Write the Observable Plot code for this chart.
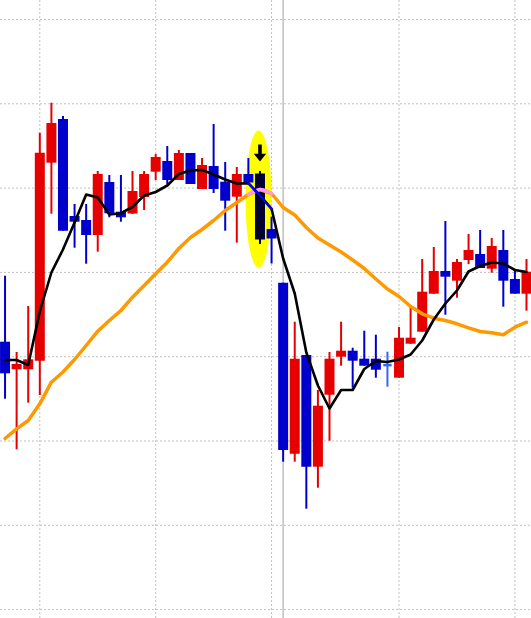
<!DOCTYPE html>
<html>
<head>
<meta charset="utf-8">
<script src="https://cdn.jsdelivr.net/npm/d3@7"></script>
<script src="https://cdn.jsdelivr.net/npm/@observablehq/plot@0.6"></script>
<style>
html, body { margin: 0; padding: 0; background: #ffffff; overflow: hidden; }
#chart svg { display: block; }
</style>
</head>
<body>
<div id="chart"></div>
<script>
// Candle data (bar index 0..45), price units
const opens  = [278.3, 250.7, 250.7, 259.3, 457.3, 501, 404, 400, 385, 438, 408.3, 406.5, 423, 448.3, 459, 440, 467, 431, 454, 438.3, 423.3, 446, 446.5, 391, 337.3, 166.3, 265, 153.3, 225.3, 263.3, 269.3, 261.3, 261.3, 255.4, 242.3, 276.3, 288.3, 326.3, 349, 339.3, 360, 366, 351.3, 370, 341, 326.3];
const highs  = [344.3, 268, 314, 487.3, 517.3, 504, 416, 416, 449, 445, 445, 449, 449, 466, 474, 470, 467, 462, 496, 458, 453, 462, 449, 403.3, 337.3, 298.3, 265, 230, 268, 298.3, 272.3, 289.3, 285.3, 268.3, 293, 313.3, 361, 373, 399, 361, 386, 390, 382, 390, 351, 361];
const lows   = [221.3, 170.7, 217.3, 225, 406.3, 389.3, 372.3, 356.3, 368.3, 402.7, 398.3, 406, 410, 440, 436, 440, 436, 431, 427, 389.3, 377.3, 437, 376, 356.5, 158.3, 158.3, 111.3, 132.3, 179.3, 254.3, 232.3, 254.3, 242.3, 233.3, 242.3, 276.3, 288.3, 326.3, 305.3, 322.3, 356, 352, 347.3, 313.3, 326.3, 309.3];
const closes = [246.7, 256, 260.7, 467.3, 497, 389.3, 398.3, 385, 446, 406.7, 402.7, 429, 446, 463, 440, 467, 436, 455, 431, 419.3, 446, 437.5, 380.5, 381.5, 170, 261.3, 153.3, 214.3, 261.3, 269.3, 259.3, 254.3, 250.3, 255.4, 282.3, 282.3, 328.3, 349, 343.3, 358, 370, 352, 374, 339.3, 326.3, 348.3];

// Moving averages
const maFast = [260.5, 260.5, 255.5, 309, 348, 371, 398, 426, 423, 406, 407.3, 413.5, 425, 428.5, 435, 446.5, 450, 450.5, 446, 441, 437, 437.3, 425, 411.7, 362, 327, 268, 235, 212, 230.5, 230.5, 251.5, 259.5, 258.5, 261, 266, 280, 301, 317, 330, 349, 354.5, 358, 357, 350.5, 348.5];
const maSlow = [182, 191.7, 200, 216.7, 238.3, 248.5, 261, 275, 289.3, 300, 310, 323.3, 335, 346.7, 358.3, 372, 383, 391, 400, 410, 418, 426, 431, 427, 413, 405.5, 393, 382.5, 375.5, 368.5, 360.5, 352, 341.5, 331.5, 324, 314, 306.7, 302.3, 300, 296.7, 292.7, 289, 287.7, 285.7, 293.3, 298.3];

// Grid / annotation values
const priceGrid = [601, 516.7, 432.4, 348.1, 263.8, 179.5, 95.2, 10.9];
const barGrid = [3, 13, 23, 34, 44];
const sessionBreak = [24];
const signalBar = 22;
const crossStart = 21;
const crossEnd = 23;

const bars = opens.map((o, i) => ({i, open: o, high: highs[i], low: lows[i], close: closes[i]}));
const fastRows = maFast.map((v, i) => ({i, v}));
const slowRows = maSlow.map((v, i) => ({i, v}));
const inCross = d => d.i >= crossStart && d.i <= crossEnd;

const colorOf = d => d.i === signalBar ? "#000033"
  : d.close > d.open ? "#e60000"
  : d.close < d.open ? "#0000cc" : "#3366ff";

// highlight ellipse around signal bar
const ellipse = d3.range(0, 360, 5).map(a => ({
  x: signalBar - 0.12 + 1.12 * Math.cos(a * Math.PI / 180),
  y: 421.4 + 68.6 * Math.sin(a * Math.PI / 180)
}));

const arrowSymbol = {
  draw(ctx) {
    ctx.moveTo(-1.8, -17); ctx.lineTo(1.8, -17); ctx.lineTo(1.8, -7.7);
    ctx.lineTo(6.2, -7.7); ctx.lineTo(0, 0); ctx.lineTo(-6.2, -7.7);
    ctx.lineTo(-1.8, -7.7); ctx.closePath();
  }
};

const chart = Plot.plot({
  width: 531,
  height: 618,
  margin: 0,
  x: {type: "linear", domain: [-0.392, 45.432], axis: null},
  y: {domain: [2, 620], axis: null},
  color: {type: "identity"},
  marks: [
    Plot.ruleY(priceGrid, {stroke: "#c0c0c0", strokeDasharray: "2,2", strokeWidth: 1}),
    Plot.ruleX(barGrid, {stroke: "#c0c0c0", strokeDasharray: "2,2", strokeWidth: 1}),
    Plot.ruleX(sessionBreak, {stroke: "#c0c0c0", strokeWidth: 1.5}),
    Plot.line(ellipse, {x: "x", y: "y", fill: "#ffff00", stroke: "none", curve: "linear-closed"}),
    Plot.ruleX(bars, {x: "i", y1: "low", y2: "high", stroke: colorOf, strokeWidth: 2}),
    Plot.ruleX(bars.filter(d => d.open !== d.close), {x: "i", y1: "open", y2: "close", stroke: colorOf, strokeWidth: 10}),
    Plot.link(bars.filter(d => d.open === d.close), {x1: d => d.i - 0.36, x2: d => d.i + 0.36, y1: "open", y2: "open", stroke: colorOf, strokeWidth: 2.5}),
    Plot.line(slowRows, {x: "i", y: "v", stroke: "#ff9900", strokeWidth: 3.5}),
    Plot.line(slowRows.filter(inCross), {x: "i", y: "v", stroke: "#ff99ee", strokeWidth: 3.5, curve: "natural"}),
    Plot.line(fastRows, {x: "i", y: "v", stroke: "#000000", strokeWidth: 2.6}),
    Plot.line(fastRows.filter(inCross), {x: "i", y: "v", stroke: "#0000ff", strokeWidth: 2.4}),
    Plot.dot([bars[signalBar]], {x: "i", y: d => d.high + 10, symbol: arrowSymbol, fill: "#000000", stroke: "none", r: 5})
  ]
});
document.getElementById("chart").appendChild(chart);
</script>
</body>
</html>
